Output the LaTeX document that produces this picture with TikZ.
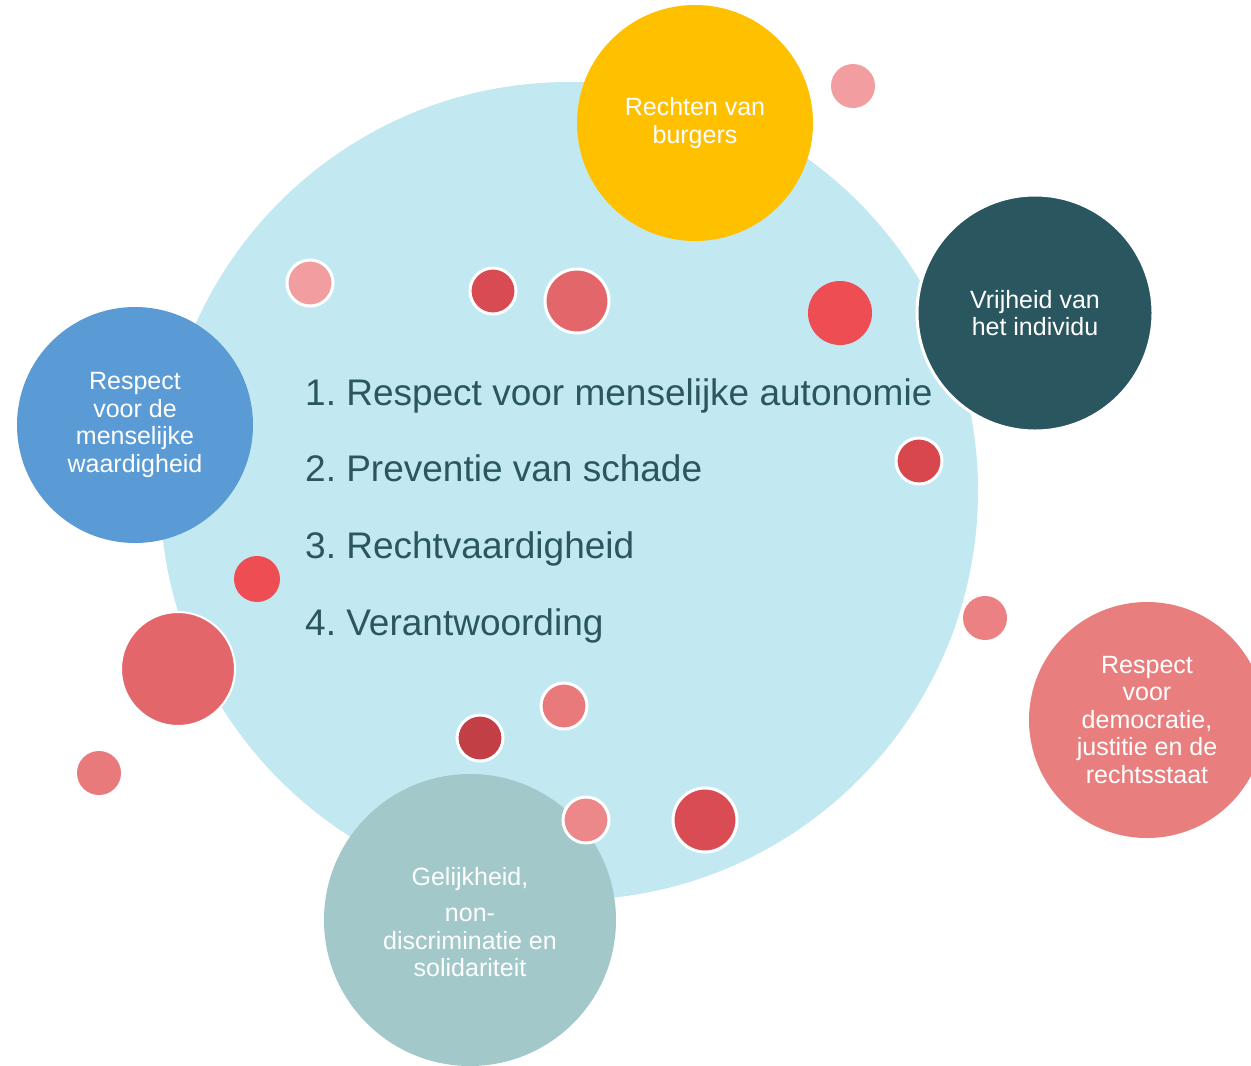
\documentclass[tikz,border=0pt]{standalone}
\usepackage{fontspec}
\setmainfont{Liberation Sans}

\definecolor{lichtblauw}{HTML}{C2E9F1}
\definecolor{donkerteal}{HTML}{2A5660}
\definecolor{geel}{HTML}{FFC000}
\definecolor{blauw}{HTML}{5B9BD5}
\definecolor{roze}{HTML}{E97E7E}
\definecolor{grijsgroen}{HTML}{A2C8C9}
% tinten voor de stippen
\definecolor{zalm}{HTML}{F29D9F}
\definecolor{koraal}{HTML}{E2666A}
\definecolor{rood}{HTML}{EE4D54}
\definecolor{donkerrood}{HTML}{D8464E}
\definecolor{oudroze}{HTML}{E97A7C}

\begin{document}
\frenchspacing
\begin{tikzpicture}[x=1pt,y=-1pt,
        waarde/.style={circle, inner sep=0pt, align=center, text=white,
            font=\fontsize{25}{27.5}\selectfont},
        principe/.style={anchor=base west, inner sep=0pt, text=donkerteal,
            font=\fontsize{37}{40}\selectfont},
        stip/.style={circle, inner sep=0pt, minimum size=#1},
        rand/.style={draw=white, line width=3pt}]
                \clip (0,0) rectangle (1251,1066);
                \fill[white] (0,0) rectangle (1251,1066);

                % grote cirkel met de vier principes
                \node[circle, fill=lichtblauw, minimum size=818pt] (kern) at (569,491) {};

                \node[principe] (p1) at (305,405) {1. Respect voor menselijke autonomie};
                \node[principe] (p2) at (305,481) {2. Preventie van schade};
                \node[principe] (p3) at (305,558) {3. Rechtvaardigheid};
                \node[principe] (p4) at (305,635) {4. Verantwoording};

                % waarden rondom
                \node[waarde, fill=geel, minimum size=236pt] (burgers) at (695,123)
                    {Rechten van\\burgers};
                \node[waarde, fill=donkerteal, minimum size=236pt, rand] (individu) at (1035,313)
                    {Vrijheid van\\het individu};
                \node[waarde, fill=blauw, minimum size=236pt] (waardigheid) at (135,425)
                    {Respect\\voor de\\menselijke\\waardigheid};
                \node[waarde, fill=roze, minimum size=236pt] (democratie) at (1147,720)
                    {Respect\\voor\\democratie,\\justitie en de\\rechtsstaat};
                \node[waarde, fill=grijsgroen, minimum size=292pt] (gelijkheid) at (470,920)
                    {};
                \node[text=white, align=center, font=\fontsize{25}{27.5}\selectfont]
                    (gelijkheidtekst) at (470,922)
                    {Gelijkheid,\\[9pt]non-\\discriminatie en\\solidariteit};

                % losse stippen
                \node[stip=46pt, fill=zalm, rand] (s1) at (310,283) {};
                \node[stip=46pt, fill=donkerrood!85!koraal, rand] (s2) at (493,291) {};
                \node[stip=64pt, fill=koraal, rand] (s3) at (577,301) {};
                \node[stip=64pt, fill=rood] (s4) at (840,313) {};
                \node[stip=44pt, fill=zalm] (s5) at (853,86) {};
                \node[stip=46pt, fill=donkerrood, rand] (s6) at (919,461) {};
                \node[stip=44pt, fill=oudroze!80!zalm] (s7) at (985,618) {};
                \node[stip=46pt, fill=rood] (s8) at (257,579) {};
                \node[stip=114pt, fill=koraal, draw=white, line width=2pt] (s9) at (178,669) {};
                \node[stip=44pt, fill=oudroze] (s10) at (99,773) {};
                \node[stip=46pt, fill=oudroze, rand] (s11) at (564,706) {};
                \node[stip=46pt, fill=donkerrood!90!black, rand] (s12) at (480,738) {};
                \node[stip=46pt, fill=oudroze!60!zalm, rand] (s13) at (586,820) {};
                \node[stip=64pt, fill=donkerrood!80!koraal, rand] (s14) at (705,820) {};
\end{tikzpicture}
\end{document}
